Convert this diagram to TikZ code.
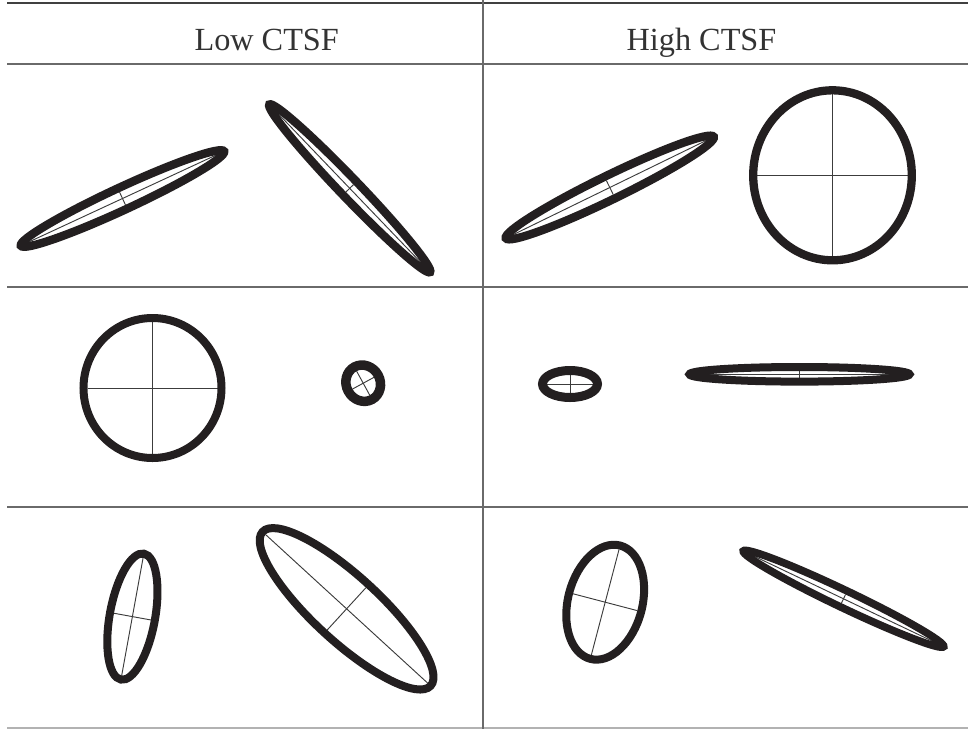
\documentclass[tikz,border=0pt]{standalone}
\usepackage{fontspec}
\setmainfont{Liberation Serif}
\definecolor{ink}{HTML}{231F20}
\definecolor{rule}{HTML}{6A6A6A}
\definecolor{axisc}{HTML}{3C3C3C}
\newcommand{\axell}[5]{%
  \begin{scope}[shift={(#1)},rotate=#2]
    \draw[axisline] ({-(#3)+(#5)/2},0) -- ({(#3)-(#5)/2},0);
    \draw[axisline] (0,{-(#4)+(#5)/2}) -- (0,{(#4)-(#5)/2});
    \draw[ring,line width={#5*0.75pt}] (0,0) ellipse [x radius=#3, y radius=#4];
  \end{scope}}
\begin{document}
\begin{tikzpicture}[x=0.75pt,y=-0.75pt,
  ring/.style={draw=ink,line width=6pt},
  axisline/.style={draw=axisc,line width=0.7pt},
  tabrule/.style={draw=rule,line width=1.1pt},
  head/.style={font=\fontsize{24.2}{29}\selectfont,text=black!80,anchor=base,inner sep=0pt}]
\useasboundingbox (0,0) rectangle (968,729);
% table rules
\coordinate (tl) at (7,3);   \coordinate (tr) at (968,3);
\coordinate (hl) at (7,64);  \coordinate (hr) at (968,64);
\coordinate (r1l) at (7,287); \coordinate (r1r) at (968,287);
\coordinate (r2l) at (7,507); \coordinate (r2r) at (968,507);
\coordinate (bl) at (7,728); \coordinate (br) at (968,728);
\coordinate (vt) at (483,0); \coordinate (vb) at (483,729);
\draw[tabrule,draw=black!75] (tl) -- (tr);
\draw[tabrule] (hl) -- (hr);
\draw[tabrule] (r1l) -- (r1r);
\draw[tabrule] (r2l) -- (r2r);
\draw[tabrule,draw=black!30] (bl) -- (br);
\draw[tabrule] (vt) -- (vb);
% headers
\node[head] (low) at (266.7,50.7) {Low CTSF};
\node[head] (high) at (701.5,50.7) {High CTSF};
% row 1, low
\axell{122.5,198.5}{24.9}{112}{11.2}{8.4}
\axell{349.7,188.3}{-46.2}{116}{9.5}{8.4}
% row 1, high
\axell{609.8,187.5}{26.0}{115.6}{12}{8.4}
\axell{832.5,175.3}{0}{79.3}{85}{8.3}
% row 2, low
\axell{152.5,388}{0}{69}{70}{8}
\axell{363.2,383.2}{-61.4}{18.5}{17}{9.5}
% row 2, high
\axell{570,384}{0}{27.5}{13.5}{9}
\axell{799.5,374.3}{0}{110}{7.3}{8}
% row 3, low
\axell{132.4,616.6}{79.7}{64}{22.7}{8}
\axell{346.6,608.8}{-42.5}{114}{32.7}{8}
% row 3, high
\axell{605.2,602.2}{75.3}{58.6}{37.2}{8}
\axell{843.5,598.8}{-25.5}{111}{8.6}{7.6}
\end{tikzpicture}
\end{document}
